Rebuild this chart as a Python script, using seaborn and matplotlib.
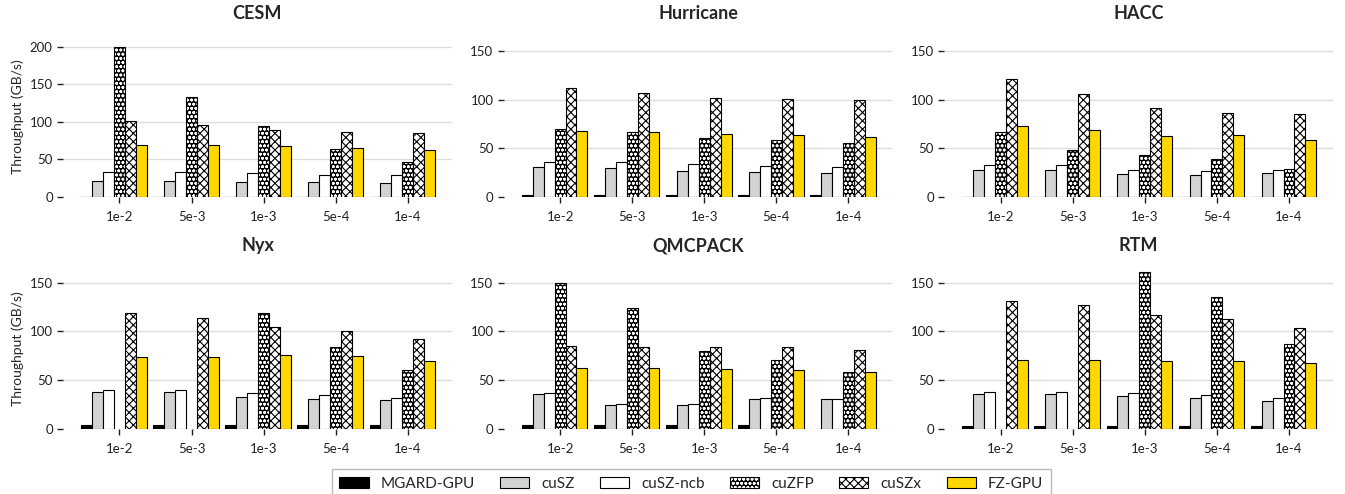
import numpy as np
import pandas as pd
import seaborn as sns
import matplotlib.pyplot as plt
from matplotlib.patches import Patch, Rectangle

nan = np.nan

datasets = ["CESM", "Hurricane", "HACC", "Nyx", "QMCPACK", "RTM"]
error_bounds = ["1e-2", "5e-3", "1e-3", "5e-4", "1e-4"]
compressors = ["MGARD-GPU", "cuSZ", "cuSZ-ncb", "cuZFP", "cuSZx", "FZ-GPU"]

# rows follow `compressors`, columns follow `error_bounds`
cesm = [
    [0.5, 0.5, 0.5, 0.5, 0.5],
    [22, 21.7, 20.4, 19.5, 18.6],
    [33, 33, 31.5, 30, 30],
    [199, 132.6, 94.5, 64.3, 47],
    [100.5, 95.8, 88.7, 87, 85.6],
    [68.7, 68.7, 67.4, 65.6, 63],
]
hurricane = [
    [2, 2, 2, 2, 2],
    [30.8, 29.8, 27, 25.7, 25],
    [36, 36, 34.2, 32.2, 31.2],
    [70, 66.7, 61, 58.9, 55.5],
    [112, 106.8, 102, 101, 99],
    [67.8, 67, 65, 64, 61.3],
]
hacc = [
    [0.5, 0.5, 0.5, 0.5, 0.5],
    [28, 28, 24, 22.3, 25],
    [33.2, 32.5, 28, 26.4, 27.7],
    [66.8, 48.6, 43.5, 39, 29],
    [120.5, 105.5, 91.4, 86.6, 85.6],
    [73, 68.5, 63, 64, 59],
]
nyx = [
    [4, 4, 4, 4, 4],
    [37.5, 37.5, 32.7, 30.3, 29.7],
    [39.5, 39.5, 36.5, 34.4, 31.7],
    [nan, nan, 119.3, 84, 60.3],
    [119, 114, 104.7, 100, 92],
    [73.3, 73.3, 75.3, 74.3, 69.5],
]
qmcpack = [
    [4, 4, 4, 4, nan],
    [35.8, 24.9, 24.2, 31, 30.3],
    [37.2, 25.6, 25.2, 32, 31],
    [150, 124.4, 79.4, 70.2, 58],
    [85.2, 84.2, 83.9, 83.5, 80.5],
    [63, 62.4, 61, 60.7, 58.3],
]
rtm = [
    [3, 3, 3, 3, 3],
    [35.8, 35.8, 33.4, 31.4, 28.3],
    [37.8, 37.5, 36.8, 34.4, 31.4],
    [nan, nan, 161, 135.7, 87],
    [131.6, 127.5, 117.3, 112.2, 103],
    [70.2, 70.2, 69.5, 69.2, 67.2],
]
tables = [cesm, hurricane, hacc, nyx, qmcpack, rtm]
y_tops = [214, 165, 165, 165, 165, 165]

colors = ["black", "#d3d3d3", "white", "black", "white", "#ffd700"]
hatches = [None, None, None, "oooo", "xxxx", None]

sns.set_style("white")
plt.rcParams["font.family"] = ["Lato", "DejaVu Sans"]
plt.rcParams["hatch.linewidth"] = 0.8

rows = []
for name, table in zip(datasets, tables):
    for comp, vals in zip(compressors, table):
        for eb, v in zip(error_bounds, vals):
            rows.append({"dataset": name, "compressor": comp, "eb": eb, "value": v})
df = pd.DataFrame(rows)

fig, axes = plt.subplots(2, 3, figsize=(13.45, 4.94), dpi=100)
plt.subplots_adjust(left=0.047, right=0.991, top=0.927, bottom=0.1316,
                    wspace=0.134, hspace=0.44)

width = 0.91
for ax, name, ytop in zip(axes.flat, datasets, y_tops):
    sub = df[df["dataset"] == name].dropna()
    sns.barplot(data=sub, x="eb", y="value", hue="compressor",
                order=error_bounds, hue_order=compressors,
                palette=colors, saturation=1, width=width, edgecolor="black",
                linewidth=0.8, legend=False, ax=ax)
    for i, cont in enumerate(ax.containers):
        for p in cont.patches:
            if i == 3:
                # white dots on black: hatch takes the edge colour, so outline separately
                p.set_facecolor("black")
                p.set_edgecolor("white")
                p.set_hatch(hatches[i])
                ax.add_patch(Rectangle(p.get_xy(), p.get_width(), p.get_height(),
                                       fill=False, edgecolor="black", lw=0.8,
                                       zorder=p.get_zorder() + 0.1))
            elif hatches[i]:
                p.set_hatch(hatches[i])
    ax.set_xlim(-0.705, 4.685)
    ax.set_ylim(0, ytop)
    ax.set_xticks(np.arange(len(error_bounds)) + width / len(compressors) / 2)
    ax.set_xticklabels(error_bounds)
    ax.set_yticks([0, 50, 100, 150] + ([200] if ytop > 200 else []))
    ax.set_title(name, fontsize=13, fontweight="bold", pad=12)
    ax.set_xlabel("")
    ax.set_ylabel("Throughput (GB/s)" if name in ("CESM", "Nyx") else "", fontsize=10)
    ax.yaxis.grid(True, color="#dddddd", linewidth=1)
    ax.set_axisbelow(True)
    for s in ax.spines.values():
        s.set_visible(False)
    ax.tick_params(axis="both", labelsize=9.5, colors="#222222", length=4, width=1,
                   direction="out", bottom=True, left=True)
    ax.tick_params(axis="x", pad=6)

handles = []
for c, h, comp in zip(colors, hatches, compressors):
    if comp == "cuZFP":
        handles.append((Patch(facecolor="black", edgecolor="white", hatch=h),
                        Patch(fill=False, edgecolor="black", lw=0.8)))
    else:
        handles.append(Patch(facecolor=c, edgecolor="black", hatch=h, lw=0.8))
fig.legend(handles, compressors, loc="lower center", bbox_to_anchor=(0.514, -0.025), ncol=6,
           fontsize=11, frameon=True, fancybox=False, edgecolor="#aaaaaa",
           handlelength=1.9, handleheight=0.7, handletextpad=0.8, columnspacing=1.65,
           borderpad=0.5)

fig.savefig("out.png", dpi=100)
